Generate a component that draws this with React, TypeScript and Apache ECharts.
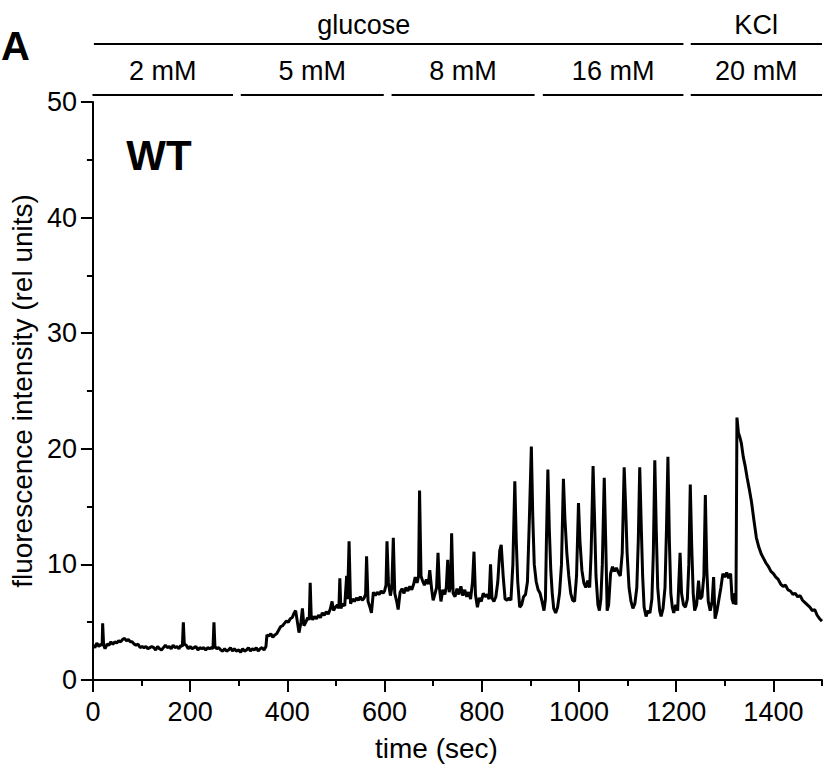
import React, { useEffect, useRef } from "react";
import * as echarts from "echarts";

// ---- data: fluorescence trace, [time (sec), intensity (rel units)] ----
const trace2mM: [number, number][] = [
  [0,3.0],[4,2.8],[8,3.2],[12,2.9],[16,3.1],[19,3.0],[20,4.9],[22,3.0],[25,2.7],[29,3.1],[33,3.0],[37,3.3],[41,3.1],[45,3.3],[49,3.2],[53,3.4],[57,3.3],[61,3.5],[65,3.6],[69,3.4],[73,3.5],[77,3.3],[81,3.3],[85,3.1],[89,3.0],[93,3.1],[97,2.8],[101,2.9],[105,2.8],[109,2.9],[113,2.7],[117,2.8],[121,2.9],[125,2.8],[129,2.6],[133,2.9],[137,2.7],[141,2.6],[145,2.8],[149,3.0],[153,2.8],[157,2.9],[161,2.7],[165,3.0],[169,2.8],[173,2.9],[177,2.7],[181,3.0],[184,2.9],[186,5.0],[188,3.1],[192,3.0],[196,2.7],[200,2.9],[204,2.7],[208,2.8],[212,2.9],[216,2.6],[220,2.8],[224,2.7],[228,2.8],[232,2.6],[236,2.8],[240,2.7],[244,2.8],[247,2.7],[249,5.0],[251,2.9],[255,2.7],[259,2.8],[263,2.6],[267,2.5],[271,2.7],[275,2.5],[279,2.6],[283,2.8],[287,2.5],[291,2.7],[295,2.5]
];
const trace5mM: [number, number][] = [
  [300,2.6],[304,2.4],[308,2.7],[312,2.5],[316,2.6],[320,2.8],[324,2.5],[328,2.7],[332,2.6],[336,2.8],[340,2.5],[344,2.7],[348,2.8],[352,2.6],[356,2.9],[358,3.9],[362,3.8],[366,4.0],[370,3.7],[374,3.9],[378,4.0],[382,4.3],[386,4.6],[390,4.7],[394,4.9],[398,5.1],[402,5.0],[406,5.3],[410,5.4],[414,5.8],[417,6.0],[420,5.2],[424,4.1],[428,5.0],[431,6.2],[434,4.7],[438,5.0],[442,5.4],[445,5.2],[447,8.4],[449,5.6],[452,5.2],[456,5.5],[460,5.3],[464,5.6],[468,5.4],[472,5.8],[476,5.6],[480,5.9],[484,5.7],[488,6.1],[492,6.8],[495,6.0],[499,6.3],[503,6.5],[506,6.2],[508,8.8],[510,6.2],[514,6.6],[518,6.4],[522,9.0],[524,7.0],[527,12.0],[530,6.6],[534,7.0],[538,6.8],[542,7.1],[546,6.9],[550,7.2],[554,6.9],[558,7.1],[561,7.4],[563,10.7],[566,6.8],[570,6.3],[573,5.8],[577,7.6],[581,7.3],[585,7.6],[589,7.4],[593,7.7],[597,7.5]
];
const trace8mM: [number, number][] = [
  [600,7.7],[603,8.2],[605,12.0],[608,8.4],[612,7.3],[615,8.0],[618,12.3],[621,7.5],[625,6.8],[628,6.1],[632,7.6],[636,7.9],[640,7.5],[644,8.0],[648,7.7],[652,8.1],[656,7.8],[660,8.3],[663,8.9],[667,8.4],[670,9.0],[672,16.4],[675,9.0],[678,8.6],[682,8.2],[686,8.7],[690,8.3],[693,9.5],[697,7.8],[700,6.9],[704,7.5],[707,8.0],[710,11.0],[713,7.9],[716,6.8],[720,7.8],[724,7.4],[727,8.0],[730,10.4],[733,7.6],[736,8.2],[738,12.7],[741,7.5],[745,7.2],[749,7.9],[753,7.4],[757,8.1],[761,7.3],[765,7.8],[769,7.2],[773,7.6],[777,7.0],[781,8.5],[784,11.1],[787,7.4],[791,6.3],[795,7.1],[799,6.8],[803,7.5],[807,7.2],[811,7.4],[815,7.0],[818,10.0],[821,7.1],[825,6.8],[829,7.2],[833,8.5],[837,11.2],[840,11.7],[844,9.0],[848,7.0],[852,6.9],[856,7.1],[860,6.9],[864,10.0],[868,17.2],[871,12.0],[874,8.5],[878,6.3],[882,6.5],[886,7.2],[890,7.4],[894,8.5],[898,14.0],[902,20.2],[905,14.0],[908,10.0]
];
const trace16mM: [number, number][] = [
  [912,8.5],[916,7.8],[920,7.5],[924,6.8],[928,6.0],[931,7.0],[933,12.0],[936,18.2],[939,13.0],[942,9.5],[945,7.5],[948,6.2],[952,5.8],[956,6.3],[960,7.5],[964,10.0],[968,17.4],[971,14.0],[975,11.0],[979,9.0],[983,7.5],[987,6.9],[991,6.8],[995,9.0],[999,15.3],[1002,12.0],[1006,9.5],[1010,8.4],[1014,8.0],[1018,8.6],[1022,8.0],[1025,11.0],[1029,18.5],[1032,14.0],[1035,9.0],[1039,6.5],[1042,6.0],[1045,7.0],[1048,10.0],[1052,17.5],[1055,12.0],[1058,6.0],[1061,6.5],[1065,9.2],[1069,9.8],[1073,9.4],[1077,9.7],[1081,9.3],[1085,9.0],[1089,11.0],[1093,18.4],[1096,15.0],[1099,11.0],[1103,8.0],[1107,6.8],[1111,6.2],[1115,6.6],[1119,8.0],[1122,12.0],[1125,18.4],[1128,13.5],[1131,9.0],[1134,6.3],[1138,5.5],[1142,6.0],[1146,5.8],[1150,7.0],[1153,11.0],[1156,19.0],[1159,13.0],[1162,8.0],[1166,6.0],[1169,5.5],[1173,6.2],[1177,8.0],[1180,13.0],[1183,19.3],[1186,12.0],[1189,7.5],[1192,6.3],[1195,5.8],[1199,6.5],[1203,6.0],[1205,8.0],[1208,11.0],[1211,7.5],[1215,6.5],[1219,6.3]
];
const traceKCl: [number, number][] = [
  [1223,7.0],[1226,10.0],[1229,16.9],[1232,11.5],[1235,7.5],[1238,6.0],[1242,6.5],[1246,8.6],[1249,7.0],[1253,7.2],[1257,9.0],[1260,16.0],[1263,9.5],[1266,6.8],[1270,6.0],[1274,6.8],[1277,8.9],[1280,5.3],[1284,6.0],[1288,7.0],[1292,8.0],[1296,9.2],[1300,8.9],[1304,9.3],[1308,8.8],[1312,9.2],[1315,7.0],[1318,6.6],[1321,7.5],[1323,6.5],[1325,22.7],[1328,21.4],[1331,21.0],[1334,20.5],[1338,19.3],[1342,18.5],[1346,17.5],[1350,16.6],[1355,15.4],[1360,13.8],[1365,12.3],[1370,11.5],[1375,10.9],[1380,10.5],[1385,10.1],[1390,9.8],[1395,9.4],[1400,9.2],[1405,8.9],[1410,8.7],[1415,8.3],[1420,8.1],[1425,8.2],[1430,7.8],[1435,7.7],[1440,7.4],[1445,7.5],[1450,7.2],[1455,7.3],[1460,6.9],[1465,6.7],[1470,6.5],[1475,6.3],[1480,6.0],[1485,6.1],[1490,5.6],[1495,5.3],[1500,5.1]
];

// ---- axis tick values ----
const xMajorTicks = [0, 200, 400, 600, 800, 1000, 1200, 1400];
const xMinorTicks = [100, 300, 500, 700, 900, 1100, 1300, 1500];

// ---- condition annotations (time spans in sec) ----
const concLabels = ["2 mM", "5 mM", "8 mM", "16 mM", "20 mM"];
const concSpans: [number, number][] = [[5, 293], [309, 602], [618, 911], [928, 1216], [1231, 1500]];
const stimLabels = ["glucose", "KCl"];
const stimSpans: [number, number][] = [[8, 1216], [1231, 1500]];
const stimLabelAt = [561, 1365];

const FONT = "'Liberation Sans', Arial, Helvetica, sans-serif";
const W = 831, H = 769;
const GRID = { left: 90, right: 9, top: 102, bottom: 89 };
const XMAX = 1500;

export default function App() {
  const ref = useRef<HTMLDivElement>(null);
  useEffect(() => {
    if (!ref.current) return;
    const chart = echarts.init(ref.current, null, { renderer: "svg" });
    const plotW = W - GRID.left - GRID.right;
    const px = (t: number) => GRID.left + (t / XMAX) * plotW;
    const data = [...trace2mM, ...trace5mM, ...trace8mM, ...trace16mM, ...traceKCl];

    const graphics: any[] = [];
    stimSpans.forEach((s, i) => {
      graphics.push({ type: "line", shape: { x1: px(s[0]), y1: 44, x2: px(s[1]), y2: 44 }, style: { stroke: "#000", lineWidth: 2 } });
      graphics.push({ type: "text", x: px(stimLabelAt[i]), y: 25, style: { text: stimLabels[i], fontSize: 27, fontFamily: FONT, fill: "#000", align: "center", verticalAlign: "middle" } });
    });
    concSpans.forEach((s, i) => {
      graphics.push({ type: "line", shape: { x1: px(s[0]), y1: 95, x2: px(s[1]), y2: 95 }, style: { stroke: "#000", lineWidth: 2 } });
      graphics.push({ type: "text", x: px((s[0] + s[1]) / 2), y: 71, style: { text: concLabels[i], fontSize: 27, fontFamily: FONT, fill: "#000", align: "center", verticalAlign: "middle" } });
    });
    graphics.push({ type: "text", x: 159, y: 155, style: { text: "WT", fontSize: 42, fontWeight: "bold", fontFamily: FONT, fill: "#000", align: "center", verticalAlign: "middle" } });
    graphics.push({ type: "text", x: 1, y: 46, style: { text: "A", fontSize: 40, fontWeight: "bold", fontFamily: FONT, fill: "#000", align: "left", verticalAlign: "middle" } });

    chart.setOption({
      animation: false,
      backgroundColor: "#fff",
      grid: { ...GRID, containLabel: false },
      xAxis: [
        {
          type: "value", min: 0, max: XMAX, interval: 200, position: "bottom",
          splitLine: { show: false },
          axisLine: { show: true, lineStyle: { color: "#000", width: 2 } },
          axisTick: { show: true, length: 12, customValues: xMajorTicks, lineStyle: { color: "#000", width: 2 } },
          axisLabel: { customValues: xMajorTicks, formatter: (v: number) => String(v), fontSize: 27, color: "#000", fontFamily: FONT, margin: 18 },
          name: "time (sec)", nameLocation: "middle", nameGap: 54,
          nameTextStyle: { fontSize: 28, color: "#000", fontFamily: FONT, padding: [0, 42, 0, 0] },
        },
        {
          type: "value", min: 0, max: XMAX, interval: 100, position: "bottom",
          splitLine: { show: false },
          axisLine: { show: false },
          axisTick: { show: true, length: 6, customValues: xMinorTicks, lineStyle: { color: "#000", width: 2 } },
          axisLabel: { show: false },
        },
      ],
      yAxis: {
        type: "value", min: 0, max: 50, interval: 10,
        splitLine: { show: false },
        axisLine: { show: true, lineStyle: { color: "#000", width: 2 } },
        axisTick: { show: true, length: 12, lineStyle: { color: "#000", width: 2 } },
        minorTick: { show: true, splitNumber: 2, length: 6, lineStyle: { color: "#000", width: 2 } },
        axisLabel: { formatter: (v: number) => String(v), fontSize: 27, color: "#000", fontFamily: FONT, margin: 16 },
        name: "fluorescence intensity (rel units)", nameLocation: "middle", nameGap: 52,
        nameTextStyle: { fontSize: 28, color: "#000", fontFamily: FONT },
      },
      graphic: graphics,
      series: [
        {
          type: "line", data, xAxisIndex: 0, showSymbol: false, symbol: "none",
          lineStyle: { color: "#000", width: 3 }, silent: true,
        },
      ],
    });
    return () => chart.dispose();
  }, []);
  return <div ref={ref} style={{ position: "absolute", left: 0, top: 0, width: W, height: H, background: "#fff" }} />;
}
